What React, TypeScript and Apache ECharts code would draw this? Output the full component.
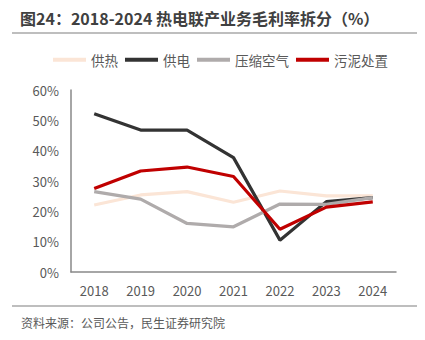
import React, { useEffect, useRef } from "react";
import * as echarts from "echarts";

const years = ["2018", "2019", "2020", "2021", "2022", "2023", "2024"];
const heatSupply = [22.1, 25.4, 26.5, 23.0, 26.7, 25.1, 25.1];
const powerSupply = [52.2, 46.8, 46.8, 37.7, 10.5, 23.2, 24.5];
const compressedAir = [26.5, 24.0, 16.0, 14.9, 22.4, 22.3, 24.5];
const sludge = [27.5, 33.3, 34.6, 31.5, 14.1, 21.4, 23.1];
const seriesNames = ["供热", "供电", "压缩空气", "污泥处置"];
const seriesColors = ["#FBE5D6", "#333333", "#AFABAB", "#C00000"];

const font = "'Noto Sans CJK SC', 'Noto Sans', sans-serif";

export default function App() {
  const ref = useRef<HTMLDivElement>(null);
  useEffect(() => {
    if (!ref.current) return;
    const chart = echarts.init(ref.current, undefined, { renderer: "svg" });
    const data = [heatSupply, powerSupply, compressedAir, sludge];
    chart.setOption({
      animation: false,
      backgroundColor: "#ffffff",
      textStyle: { fontFamily: font },
      graphic: [
        {
          type: "text",
          left: 20,
          top: 10,
          style: {
            text: "图24：2018-2024 热电联产业务毛利率拆分（%）",
            font: "bold 16px " + font,
            fill: "#404040",
          },
        },
        {
          type: "line",
          shape: { x1: 12, y1: 33, x2: 418, y2: 33 },
          style: { stroke: "#7F7F7F", lineWidth: 1.2 },
        },
        {
          type: "line",
          shape: { x1: 12, y1: 306, x2: 418, y2: 306 },
          style: { stroke: "#7F7F7F", lineWidth: 1.2 },
        },
        {
          type: "text",
          left: 21,
          top: 316,
          style: {
            text: "资料来源：公司公告，民生证券研究院",
            font: "12px " + font,
            fill: "#595959",
          },
        },
      ],
      legend: {
        top: 48,
        left: 48,
        itemWidth: 33,
        itemHeight: 4,
        itemGap: 7,
        icon: "rect",
        textStyle: { fontSize: 13.5, color: "#595959", fontFamily: font },
        data: seriesNames,
      },
      grid: { left: 71, right: 29, top: 90, bottom: 68, containLabel: false },
      xAxis: {
        type: "category",
        data: years,
        boundaryGap: true,
        axisLine: { lineStyle: { color: "#898989", width: 1.5 } },
        axisTick: { show: false },
        axisLabel: { color: "#595959", fontSize: 13, margin: 12, fontFamily: font },
      },
      yAxis: {
        type: "value",
        min: 0,
        max: 60,
        interval: 10,
        axisLine: { show: true, lineStyle: { color: "#898989", width: 1.5 } },
        axisTick: { show: false },
        splitLine: { show: false },
        axisLabel: { color: "#595959", fontSize: 13, margin: 12, formatter: "{value}%", fontFamily: font },
      },
      series: seriesNames.map((name, i) => ({
        name,
        type: "line",
        data: data[i],
        symbol: "none",
        lineStyle: { color: seriesColors[i], width: 3.2 },
        itemStyle: { color: seriesColors[i] },
        z: i === 0 ? 1 : 2 + i,
      })),
    });
    return () => chart.dispose();
  }, []);
  return <div ref={ref} style={{ width: 425, height: 340, margin: -8 }} />;
}
